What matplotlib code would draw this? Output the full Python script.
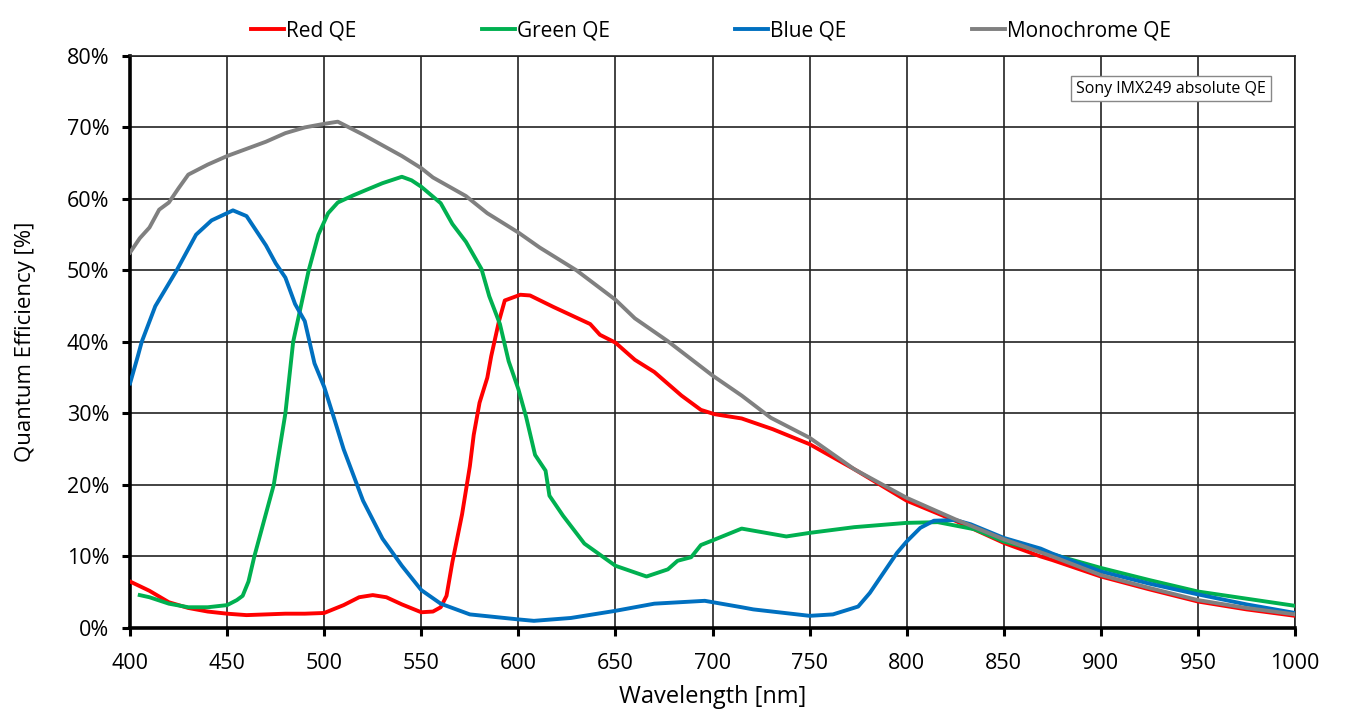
import matplotlib
matplotlib.use("Agg")
import matplotlib.pyplot as plt
from matplotlib.ticker import FuncFormatter, MultipleLocator

mono_nm = [400, 405, 410, 415, 420, 425, 430, 440, 450, 460, 470, 480, 490, 500, 507, 520, 530, 540, 550, 556, 573, 584, 600, 611, 630, 650, 660, 677, 700, 715, 730, 750, 773, 800, 825, 850, 875, 900, 925, 950, 975, 1000]
mono_qe = [52.5, 54.5, 56, 58.5, 59.5, 61.5, 63.4, 64.8, 66, 67, 68, 69.2, 70, 70.5, 70.8, 69, 67.5, 66, 64.3, 63, 60.4, 58, 55.3, 53.2, 50, 45.9, 43.3, 40.1, 35.3, 32.5, 29.4, 26.6, 22.2, 18.2, 15.2, 12.4, 10, 7.4, 5.6, 3.9, 2.8, 1.9]

red_nm = [400, 410, 420, 430, 440, 450, 460, 470, 480, 490, 500, 510, 518, 525, 532, 540, 550, 556, 560, 563, 566, 571, 575, 577, 580, 584, 586, 590, 593, 601, 606, 618, 637, 642, 650, 660, 670, 684, 694, 701, 715, 731, 750, 773, 800, 825, 850, 869, 875, 900, 925, 950, 975, 1000]
red_qe = [6.5, 5.2, 3.6, 2.8, 2.3, 2.0, 1.8, 1.9, 2.0, 2.0, 2.1, 3.2, 4.3, 4.6, 4.3, 3.3, 2.2, 2.3, 2.9, 4.5, 9.2, 15.9, 22.6, 27, 31.5, 35, 38, 42.9, 45.8, 46.6, 46.5, 44.9, 42.5, 41, 39.9, 37.5, 35.8, 32.5, 30.5, 29.9, 29.3, 27.8, 25.7, 22.2, 17.8, 15, 11.9, 10, 9.5, 7.2, 5.4, 3.7, 2.6, 1.7]

green_nm = [405, 410, 420, 430, 440, 450, 455, 458, 461, 464, 468, 474, 480, 484, 488, 492, 497, 502, 507, 515, 522, 530, 540, 545, 550, 560, 566, 573, 581, 585, 590.5, 595, 600, 604, 608.6, 614, 616, 623, 634, 650, 666, 677, 682, 689, 694, 700.5, 715, 738, 750, 773, 800, 816, 835, 850, 875, 900, 925, 950, 975, 1000]
green_qe = [4.6, 4.3, 3.4, 2.9, 2.9, 3.2, 3.9, 4.5, 6.5, 10, 14, 20, 30, 40, 45, 50, 55, 58, 59.5, 60.5, 61.3, 62.2, 63.1, 62.6, 61.7, 59.4, 56.5, 54, 50.2, 46.4, 42.5, 37.3, 33.4, 29.5, 24.2, 22, 18.5, 15.7, 11.8, 8.7, 7.2, 8.2, 9.4, 9.9, 11.6, 12.3, 13.9, 12.8, 13.3, 14.1, 14.7, 14.8, 13.8, 12.1, 10.3, 8.4, 6.7, 5.1, 4.1, 3.1]

blue_nm = [400, 404, 406, 413, 424, 434, 442, 453, 460, 470, 475, 480, 485, 490, 495, 500, 505, 510, 520, 530, 540, 550, 560, 575, 600, 608, 627, 650, 670, 696, 715, 721, 750, 762, 775, 781, 788, 795, 800, 807, 814, 825, 833, 850, 869, 875, 900, 925, 950, 975, 1000]
blue_qe = [34.2, 38, 40, 45, 50, 55, 57, 58.4, 57.6, 53.5, 51, 49, 45.3, 42.9, 37, 33.7, 29.4, 25, 17.8, 12.5, 8.7, 5.3, 3.4, 1.9, 1.2, 1.0, 1.4, 2.4, 3.4, 3.8, 2.9, 2.6, 1.7, 1.9, 3.0, 4.9, 7.7, 10.5, 12.1, 14.0, 15, 15.1, 14.5, 12.6, 11.1, 10.4, 7.9, 6.2, 4.7, 3.3, 2.1]

plt.rcParams['font.family'] = ['Open Sans', 'DejaVu Sans']

fig = plt.figure(figsize=(13.49, 7.26), dpi=100)
ax = fig.add_axes([0.0964, 0.135, 0.8636, 0.788])

lw = 2.8
ax.plot(red_nm, red_qe, color='#FF0000', lw=lw, label='Red QE', zorder=3)
ax.plot(green_nm, green_qe, color='#00B050', lw=lw, label='Green QE', zorder=3)
ax.plot(blue_nm, blue_qe, color='#0070C0', lw=lw, label='Blue QE', zorder=3)
ax.plot(mono_nm, mono_qe, color='#808080', lw=lw, label='Monochrome QE', zorder=4)

ax.set_xlim(400, 1000)
ax.set_ylim(0, 80)
ax.xaxis.set_major_locator(MultipleLocator(50))
ax.yaxis.set_major_locator(MultipleLocator(10))
ax.yaxis.set_major_formatter(FuncFormatter(lambda v, p: f"{int(round(v))}%"))
ax.grid(True, color='#222222', lw=1.2, zorder=1)
ax.set_axisbelow(True)
for s in ['top', 'right']:
    ax.spines[s].set_color('#222222')
    ax.spines[s].set_linewidth(1.2)
for s in ['left', 'bottom']:
    ax.spines[s].set_color('black')
    ax.spines[s].set_linewidth(2.6)
ax.tick_params(axis='both', labelsize=15.5, length=6, width=2.2, direction='out', colors='black')
ax.tick_params(axis='y', pad=9)
ax.tick_params(axis='x', pad=12)
ax.set_xlabel('Wavelength [nm]', fontsize=17, labelpad=8)
ax.set_ylabel('Quantum Efficiency [%]', fontsize=16, labelpad=22)

fig.legend(loc='upper center', bbox_to_anchor=(0.527, 0.998), ncol=4, frameon=False,
           fontsize=15, handlelength=1.6, handletextpad=0.1, columnspacing=6.0)

ax.text(0.975, 0.943, 'Sony IMX249 absolute QE', transform=ax.transAxes, ha='right', va='center',
        fontsize=11.5, bbox=dict(boxstyle='square,pad=0.3', fc='white', ec='#888888', lw=1), zorder=5)

fig.savefig('out.png', dpi=100, facecolor='white')
